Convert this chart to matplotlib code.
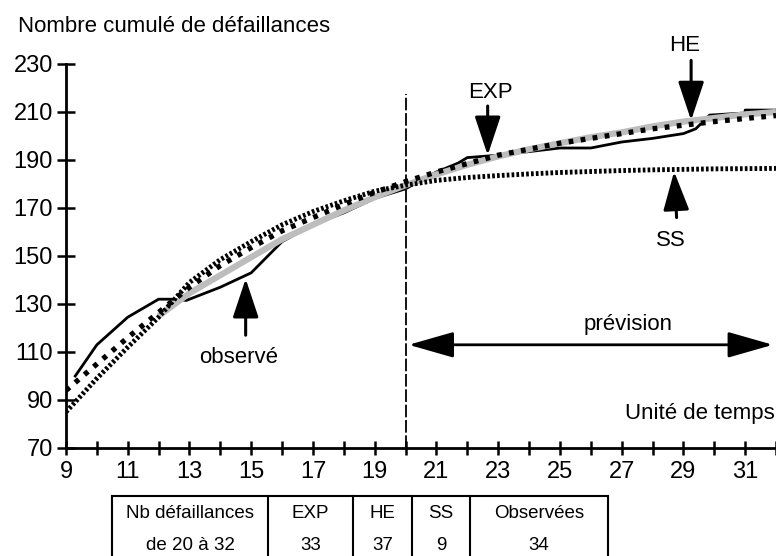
import matplotlib.pyplot as plt
from matplotlib.lines import Line2D

plt.rcParams['font.family'] = ['Liberation Sans', 'DejaVu Sans']

# -------------------------------
# Data
# -------------------------------
obs_t = [9.3, 10, 11, 12, 12.4, 12.9, 14, 15, 16, 17, 18, 19, 20, 21, 21.7, 22, 23, 24, 25, 26, 27, 28, 29, 29.4, 29.85, 31, 31, 32]
obs_y = [100, 113, 124.5, 132, 132, 131.5, 137, 143, 156, 163, 168, 174, 178, 185, 188.7, 191, 192, 193.5, 195, 195, 197.5, 199, 201, 203, 208.7, 209.6, 210.8, 210.8]

model_t = list(range(9, 33))
exp_y = [94, 105, 116, 126.5, 137, 146, 153.5, 160.5, 166, 171.5, 176.5, 181, 185, 188.5, 192, 194.5, 197, 199, 201, 203, 204.5, 206, 207.3, 208.5]
ss_y = [85, 99, 112, 124.5, 139, 148.5, 156, 163, 168.5, 173, 177, 179.5, 181.5, 182.7, 183.5, 184.2, 184.8, 185.2, 185.6, 185.9, 186.1, 186.3, 186.4, 186.5]

he_t = list(range(12, 33))
he_y = [125, 134.5, 142, 149.5, 157, 163, 169, 174.5, 179.5, 184, 188, 191.5, 194.5, 197, 199.5, 201.5, 204, 206, 207.5, 209, 210]

table_header = ["Nb défaillances", "EXP", "HE", "SS", "Observées"]
table_row = ["de 20 à 32", "33", "37", "9", "34"]

# -------------------------------
# Figure
# -------------------------------
W, H = 776, 556
fig = plt.figure(figsize=(W / 100, H / 100), dpi=100)
ax = fig.add_axes([66 / W, 108 / H, (W - 66) / W, (448 - 64) / H])
ax.set_xlim(9, 32)
ax.set_ylim(70, 230)

ax.plot(obs_t, obs_y, color='black', lw=2.0, zorder=2)
ax.plot(he_t, he_y, color='#bdbdbd', lw=4.5, solid_capstyle='butt', zorder=3)
ax.plot(model_t, ss_y, color='black', lw=3.5, linestyle=(0, (0.55, 0.45)), zorder=4)
ax.plot(model_t, exp_y, color='black', lw=3.8, linestyle=(0, (0.9, 1.4)), zorder=5)

# forecast start
ax.plot([20, 20], [70, 217.5], color='black', lw=1.3, linestyle=(0, (7, 1.5)), zorder=1)

# axes style
for s in ['top', 'right']:
    ax.spines[s].set_visible(False)
for s in ['left', 'bottom']:
    ax.spines[s].set_linewidth(2)
ax.set_yticks(range(70, 231, 20))
ax.set_xticks(range(9, 33))
ax.set_xticklabels([str(t) if t % 2 == 1 else '' for t in range(9, 33)])
ax.tick_params(axis='y', direction='inout', length=13, width=1.8, labelsize=17, pad=3)
ax.tick_params(axis='x', direction='inout', length=10, width=1.8, labelsize=17, pad=4)

# annotations
arr = dict(arrowstyle='-|>,head_length=1.2,head_width=0.4', mutation_scale=20,
           color='black', lw=2.2, shrinkA=0, shrinkB=0)
ax.annotate('', xy=(14.82, 140.5), xytext=(14.82, 117), arrowprops=arr)
ax.text(14.6, 107.5, 'observé', fontsize=16, ha='center', va='center')
ax.annotate('', xy=(22.66, 192), xytext=(22.66, 212.5), arrowprops=arr)
ax.text(22.75, 218, 'EXP', fontsize=16, ha='center', va='center')
ax.annotate('', xy=(29.25, 206.5), xytext=(29.25, 231.5), arrowprops=arr, annotation_clip=False)
ax.text(29.05, 237.5, 'HE', fontsize=16, ha='center', va='center', clip_on=False)
ax.annotate('', xy=(28.7, 185.2), xytext=(28.78, 166), arrowprops=arr)
ax.text(28.6, 156.5, 'SS', fontsize=16, ha='center', va='center')

dbl = dict(arrowstyle='<|-|>,head_length=1.4,head_width=0.4', mutation_scale=20,
           color='black', lw=2.0, shrinkA=0, shrinkB=0)
ax.annotate('', xy=(20.1, 113), xytext=(31.9, 113), arrowprops=dbl)
ax.text(27.2, 121.5, 'prévision', fontsize=16, ha='center', va='center')
ax.text(31.95, 84.5, 'Unité de temps', fontsize=16, ha='right', va='center')

fig.text(18 / W, 1 - 27 / H, 'Nombre cumulé de défaillances', fontsize=16, ha='left', va='center')

# -------------------------------
# Table below the chart
# -------------------------------
col_edges = [112, 268, 353, 412, 470, 608]
top = 496
fig.add_artist(Line2D([col_edges[0] / W, col_edges[-1] / W], [1 - top / H, 1 - top / H],
                      color='black', lw=1.5))
for xe in col_edges:
    fig.add_artist(Line2D([xe / W, xe / W], [1 - top / H, 0], color='black', lw=1.5))
for i in range(len(table_header)):
    xc = (col_edges[i] + col_edges[i + 1]) / 2 / W
    fig.text(xc, 1 - 514 / H, table_header[i], fontsize=13.5, ha='center', va='center')
    fig.text(xc, 1 - 546 / H, table_row[i], fontsize=13.5, ha='center', va='center')

fig.savefig('out.png', dpi=100)
